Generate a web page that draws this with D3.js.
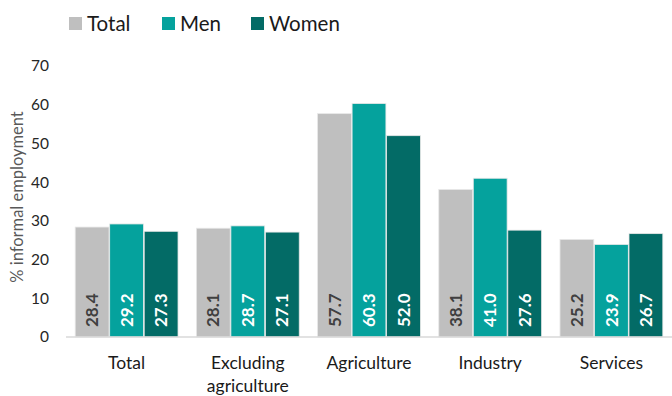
<!DOCTYPE html>
<html><head><meta charset="utf-8">
<script src="https://cdn.jsdelivr.net/npm/d3@7"></script>
<style>body{margin:0;background:#fff;} text{font-family:Lato,"Open Sans",sans-serif;}</style>
</head><body><svg id="c" width="672" height="396"></svg>
<script>
const categories = [["Total"], ["Excluding", "agriculture"], ["Agriculture"], ["Industry"], ["Services"]];
const seriesNames = ["Total", "Men", "Women"];
const totalValues = [28.4, 28.1, 57.7, 38.1, 25.2];
const menValues = [29.2, 28.7, 60.3, 41.0, 23.9];
const womenValues = [27.3, 27.1, 52.0, 27.6, 26.7];
const yTicks = [0, 10, 20, 30, 40, 50, 60, 70];
const colors = ["#BFBFBF", "#05A29D", "#036B66"];
const labelColors = ["#404040", "#ffffff", "#ffffff"];

const svg = d3.select("#c");
const x0 = d3.scaleBand().domain(d3.range(categories.length)).range([66, 672]).paddingInner(0.14).paddingOuter(0.07);
const x1 = d3.scaleBand().domain(d3.range(3)).range([0, x0.bandwidth()]).padding(0.02);
const y = d3.scaleLinear().domain([0, 70]).range([337, 66]);

svg.append("g").selectAll("text").data(yTicks).join("text")
  .attr("x", 49).attr("y", d => y(d)).attr("dy", "0.35em").attr("text-anchor", "end")
  .attr("font-size", 15.5).attr("fill", "#262626").text(d => d);

svg.append("text").attr("transform", "translate(23,197) rotate(-90)").attr("text-anchor", "middle")
  .attr("font-size", 16.5).attr("fill", "#595959").text("% informal employment");

const data = [totalValues, menValues, womenValues];
const g = svg.append("g");
categories.forEach((c, i) => {
  data.forEach((vals, s) => {
    const bx = x0(i) + x1(s);
    g.append("rect").attr("x", bx).attr("y", y(vals[i])).attr("width", x1.bandwidth())
      .attr("height", y(0) - y(vals[i])).attr("fill", colors[s]).attr("stroke", "#e8e8e8").attr("stroke-width", 0.8);
    g.append("text").attr("transform", `translate(${bx + x1.bandwidth() / 2},${y(0) - 10}) rotate(-90)`)
      .attr("dy", "0.36em").attr("font-size", 17).attr("font-weight", "bold").attr("fill", labelColors[s])
      .text(vals[i].toFixed(1));
  });
  const t = svg.append("text").attr("x", x0(i) + x0.bandwidth() / 2).attr("y", 369).attr("text-anchor", "middle")
    .attr("font-size", 17.5).attr("fill", "#1a1a1a");
  c.forEach((line, k) => t.append("tspan").attr("x", x0(i) + x0.bandwidth() / 2).attr("y", 369 + k * 23).text(line));
});

svg.append("line").attr("x1", 66).attr("x2", 672).attr("y1", y(0)).attr("y2", y(0)).attr("stroke", "#d9d9d9").attr("stroke-width", 1.5);

const legX = [69, 162, 251];
seriesNames.forEach((n, i) => {
  svg.append("rect").attr("x", legX[i]).attr("y", 17).attr("width", 13).attr("height", 13).attr("fill", colors[i]);
  svg.append("text").attr("x", legX[i] + 18).attr("y", 24).attr("dy", "0.35em").attr("font-size", 20.5).attr("fill", "#1a1a1a").text(n);
});
</script></body></html>
